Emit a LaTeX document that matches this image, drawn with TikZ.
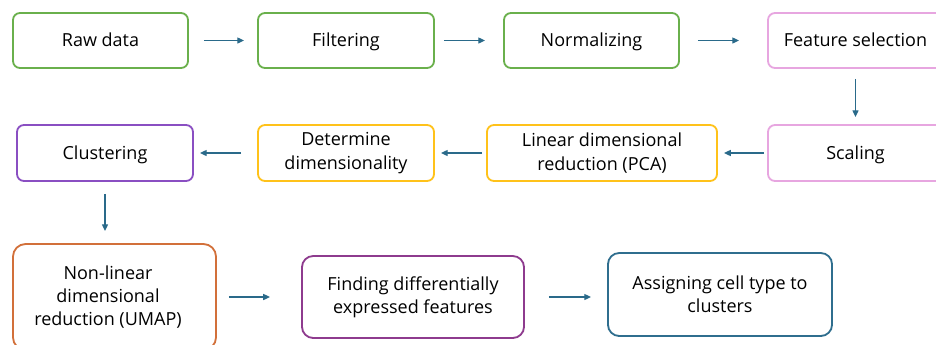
\documentclass[tikz,border=0pt]{standalone}
\usepackage{fontspec}
\setmainfont{Open Sans}
\usetikzlibrary{positioning, arrows.meta}

\definecolor{stepgreen}{HTML}{6AB04C}
\definecolor{steppink}{HTML}{E7A6E0}
\definecolor{stepyellow}{HTML}{FFC21A}
\definecolor{steppurple}{HTML}{8A4FC2}
\definecolor{steporange}{HTML}{D2703A}
\definecolor{stepplum}{HTML}{8E3B8E}
\definecolor{stepteal}{HTML}{2F6E8E}
\definecolor{arrowblue}{HTML}{2A6A8A}

\begin{document}
\begin{tikzpicture}[
  x=0.025cm, y=-0.025cm,
  font=\fontsize{12.8}{16.5}\selectfont,
  >={Triangle[length=1.7mm, width=1.5mm]},
  stepbox/.style={draw, rounded corners=5pt, minimum width=4.375cm, minimum height=1.375cm, align=center, line width=1.3pt, fill=white, inner sep=2pt},
  oneline/.style={text height=2.1ex, text depth=0.45ex},
  arrow/.style={->, line width=1pt, arrowblue}
]

\useasboundingbox (0,0) rectangle (936,344);

% Top row
\node[stepbox, oneline, draw=stepgreen] (raw) at (100.5, 40.5) {Raw data};
\node[stepbox, oneline, draw=stepgreen, minimum width=4.4cm] (filt) at (346, 40.5) {Filtering};
\node[stepbox, oneline, draw=stepgreen] (norm) at (591.5, 40.5) {Normalizing};
\node[stepbox, oneline, draw=steppink] (feat) at (855.5, 40.5) {Feature selection};

% Middle row (runs right to left)
\node[stepbox, oneline, draw=steppink, minimum height=1.4cm] (scal) at (855.5, 153) {Scaling};
\node[stepbox, draw=stepyellow, minimum width=5.75cm, minimum height=1.4cm] (lin) at (602, 153) {Linear dimensional\\reduction (PCA)};
\node[stepbox, draw=stepyellow, minimum width=4.4cm, minimum height=1.4cm] (det) at (346, 153) {Determine\\dimensionality};
\node[stepbox, oneline, draw=steppurple, minimum width=4.4cm, minimum height=1.4cm] (clus) at (105, 153) {Clustering};

% Bottom row
\node[stepbox, draw=steporange, rounded corners=9pt, minimum width=5.075cm, minimum height=2.65cm] (nonlin) at (114.5, 297) {};
\node[align=center] (nonlintxt) at (108, 297) {Non-linear\\dimensional\\reduction (UMAP)};
\node[stepbox, draw=stepplum, rounded corners=8pt, minimum width=5.55cm, minimum height=2.05cm] (find) at (413, 297) {Finding differentially\\expressed features};
\node[stepbox, draw=stepteal, rounded corners=8pt, minimum width=5.6cm, minimum height=2.075cm] (assign) at (720, 294.5) {Assigning cell type to\\clusters};

% Connectors
\draw[arrow, shorten <=0.375cm, shorten >=0.325cm] (raw.east) -- (filt.west);
\draw[arrow, shorten <=0.225cm, shorten >=0.45cm] (filt.east) -- (norm.west);
\draw[arrow, shorten <=0.45cm, shorten >=0.7cm] (norm.east) -- (feat.west);
\draw[arrow, shorten <=0.25cm, shorten >=0.175cm] (feat.south) -- (scal.north);
\draw[arrow, shorten <=0.075cm, shorten >=0.15cm] (scal.west) -- (lin.east);
\draw[arrow, shorten <=0.1cm, shorten >=0.15cm] (lin.west) -- (det.east);
\draw[arrow, shorten <=0.4cm, shorten >=0.15cm] (det.west) -- (clus.east);
\draw[arrow, shorten <=0.3cm, shorten >=0.3cm] (clus.south) -- (clus.south |- nonlin.north);
\draw[arrow, shorten <=0.3cm, shorten >=0.775cm] (nonlin.east) -- (find.west);
\draw[arrow, shorten <=0.6cm, shorten >=0.4cm] (find.east) -- (find.east -| assign.west);

\end{tikzpicture}
\end{document}
